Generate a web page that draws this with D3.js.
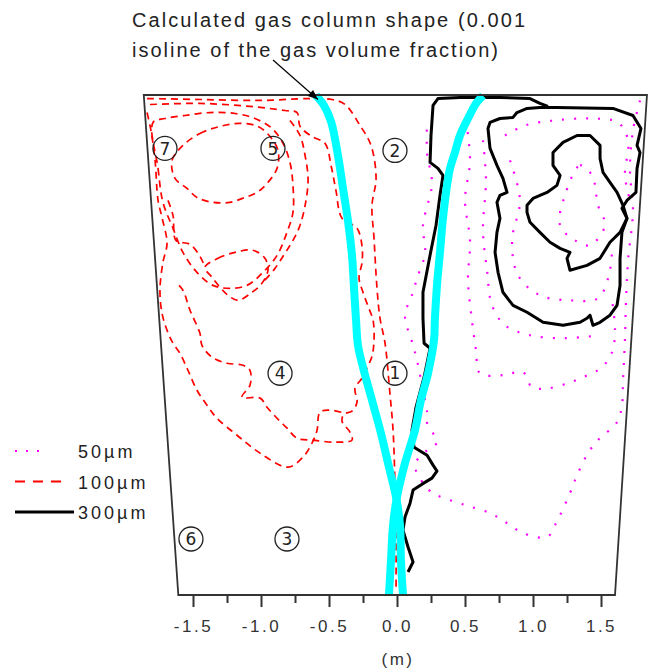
<!DOCTYPE html>
<html>
<head>
<meta charset="utf-8">
<script src="https://cdn.jsdelivr.net/npm/d3@7"></script>
<style>
  html, body { margin: 0; padding: 0; background: #ffffff; }
  text { font-family: "Liberation Sans", Arial, sans-serif; }
</style>
</head>
<body>
<svg id="chart" width="649" height="672"></svg>
<script>
// ---- Data (metres; x = radial position, y = height above the bottom) ----
const tickValues = [-1.5, -1.0, -0.5, 0.0, 0.5, 1.0, 1.5];
const minorTicks = [-1.25, -0.75, -0.25, 0.25, 0.75, 1.25];
const axisLabel = "(m)";
const titleLines = ["Calculated gas column shape (0.001", "isoline of the gas volume fraction)"];
const legendLabels = ["50\u00b5m", "100\u00b5m", "300\u00b5m"];

// vessel cross-section (bottom-left, top-left, top-right, bottom-right)
const vessel = [[-1.608, 0], [-1.862, 3.68], [1.838, 3.68], [1.603, 0]];

// 0.001 gas volume fraction isoline (two branches of the plume)
const gasLeft = [[-0.596,3.676],[-0.537,3.603],[-0.485,3.485],[-0.434,3.235],[-0.397,2.993],[-0.360,2.750],
  [-0.331,2.5],[-0.316,2.257],[-0.301,2.022],[-0.287,1.838],[-0.25,1.676],[-0.184,1.434],[-0.118,1.191],
  [-0.059,0.941],[-0.007,0.721],[0.022,0.515],[0.029,0.257],[0.044,0]];
const gasRight = [[0.632,3.676],[0.581,3.618],[0.522,3.507],[0.463,3.382],[0.426,3.257],[0.390,3.140],
  [0.368,3.015],[0.338,2.772],[0.316,2.522],[0.294,2.279],[0.279,2.037],[0.272,1.875],[0.228,1.632],
  [0.176,1.434],[0.132,1.213],[0.059,0.971],[0,0.721],[-0.029,0.515],[-0.044,0.257],[-0.059,0]];

// 100 µm particle trajectories (open lines)
const red100Lines = [
  [[-1.838,3.654],[-1.449,3.647],[-1.007,3.640],[-0.640,3.654],[-0.478,3.647],[-0.382,3.610],[-0.272,3.456],
   [-0.191,3.309],[-0.154,3.066],[-0.184,2.868],[-0.169,2.625],[-0.147,2.257],[-0.125,2.037],[-0.088,1.853],
   [-0.051,1.471],[-0.029,1.213],[-0.015,0.824],[-0.007,0.404],[-0.007,0.037]],
  [[-1.816,3.610],[-1.449,3.618],[-1.081,3.596],[-0.824,3.566],[-0.735,3.551],[-0.713,3.449],[-0.625,3.375],
   [-0.529,3.324],[-0.485,3.162],[-0.449,2.978],[-0.404,2.772],[-0.294,2.699],[-0.257,2.566],[-0.257,2.449],
   [-0.279,2.331],[-0.25,2.228],[-0.213,2.125],[-0.176,2.022],[-0.169,1.875],[-0.184,1.757],[-0.221,1.669],
   [-0.257,1.596],[-0.309,1.522],[-0.294,1.419],[-0.331,1.353],[-0.390,1.331],[-0.404,1.279],[-0.346,1.199],
   [-0.331,1.140],[-0.456,1.125],[-0.618,1.140],[-0.735,1.154],[-0.809,1.228],[-0.882,1.301],[-0.956,1.382],
   [-1.007,1.449],[-1.140,1.456],[-1.081,1.544],[-1.081,1.654],[-1.132,1.691],[-1.25,1.706],[-1.360,1.75],
   [-1.434,1.838],[-1.449,1.926],[-1.522,2.096],[-1.574,2.243],[-1.618,2.294]],
  [[-1.838,3.551],[-1.809,3.419],[-1.779,3.199],[-1.757,2.904],[-1.728,2.779],[-1.691,2.588],[-1.721,2.449],
   [-1.743,2.243],[-1.728,2.074],[-1.691,1.949],[-1.647,1.853],[-1.596,1.779],[-1.537,1.654],[-1.471,1.507],
   [-1.397,1.397],[-1.324,1.301],[-1.176,1.176],[-1.007,1.044],[-0.801,0.941],[-0.691,1.015],[-0.625,1.118],
   [-0.588,1.213],[-0.566,1.346],[-0.493,1.360],[-0.382,1.338]],
  [[-1.684,2.904],[-1.647,2.794],[-1.625,2.610],[-1.522,2.581],[-1.449,2.493],[-1.412,2.412]],
  [[-0.787,3.493],[-0.713,3.382],[-0.676,3.235],[-0.654,3.066],[-0.669,2.904],[-0.713,2.721],[-0.765,2.610],
   [-0.824,2.515],[-0.897,2.404],[-0.993,2.294]]
];
// 100 µm closed recirculation loops
const red100Loops = [
  [[-1.794,3.478],[-1.757,3.140],[-1.721,2.890],[-1.647,2.699],[-1.574,2.522],[-1.471,2.375],[-1.353,2.279],
   [-1.228,2.257],[-1.103,2.279],[-0.985,2.375],[-0.882,2.5],[-0.809,2.669],[-0.765,2.816],[-0.765,3.015],
   [-0.787,3.184],[-0.838,3.324],[-0.919,3.434],[-1.044,3.507],[-1.191,3.544],[-1.375,3.551],[-1.559,3.529],
   [-1.706,3.507]],
  [[-1.574,3.309],[-1.449,3.397],[-1.301,3.449],[-1.154,3.471],[-1.022,3.449],[-0.934,3.375],[-0.875,3.272],
   [-0.882,3.140],[-0.956,3.029],[-1.029,2.963],[-1.118,2.926],[-1.228,2.890],[-1.353,2.890],[-1.471,2.926],
   [-1.544,2.993],[-1.632,3.066],[-1.654,3.199]],
  [[-1.412,2.412],[-1.316,2.478],[-1.191,2.522],[-1.059,2.537],[-0.971,2.478],[-0.949,2.390],[-0.993,2.294],
   [-1.066,2.228],[-1.169,2.169],[-1.243,2.206],[-1.301,2.265],[-1.360,2.338]]
];

// 300 µm particle trajectories
const black300Lines = [
  [[1.110,3.596],[1.051,3.618],[0.978,3.654],[0.757,3.662],[0.463,3.662],[0.301,3.654],[0.265,3.603],
   [0.25,3.382],[0.243,3.184],[0.301,3.140],[0.338,3.088],[0.316,2.941],[0.287,2.721],[0.243,2.5],
   [0.191,2.228],[0.191,2.037],[0.199,1.853],[0.243,1.816],[0.199,1.603],[0.140,1.382],[0.110,1.213],
   [0.125,1.088],[0.221,1.029],[0.265,0.956],[0.294,0.912],[0.257,0.860],[0.184,0.816],[0.118,0.772],
   [0.096,0.676],[0.059,0.574],[0.044,0.478],[0.081,0.353],[0.118,0.243],[0.081,0.169]]
];
const black300Loops = [
  [[0.684,3.478],[0.757,3.507],[0.853,3.515],[0.882,3.551],[0.956,3.581],[1.051,3.588],[1.176,3.588],
   [1.588,3.581],[1.735,3.529],[1.794,3.434],[1.765,3.309],[1.787,3.257],[1.765,3.140],[1.757,2.963],
   [1.691,2.904],[1.654,2.846],[1.691,2.772],[1.654,2.669],[1.640,2.478],[1.640,2.279],[1.618,2.132],
   [1.566,2.059],[1.493,2.007],[1.441,1.985],[1.419,2.059],[1.397,2.037],[1.346,2.007],[1.221,1.985],
   [1.074,2.007],[0.956,2.081],[0.853,2.132],[0.779,2.228],[0.743,2.375],[0.721,2.522],[0.735,2.669],
   [0.757,2.772],[0.735,2.890],[0.757,2.941],[0.809,2.963],[0.779,3.066],[0.735,3.162],[0.684,3.287],
   [0.669,3.434]],
  [[0.956,2.868],[1.0,2.919],[1.103,2.963],[1.176,3.015],[1.199,3.088],[1.147,3.162],[1.147,3.257],
   [1.221,3.331],[1.324,3.382],[1.419,3.382],[1.493,3.309],[1.493,3.213],[1.515,3.110],[1.566,3.037],
   [1.618,2.963],[1.662,2.868],[1.691,2.772],[1.640,2.669],[1.566,2.596],[1.493,2.478],[1.397,2.426],
   [1.272,2.390],[1.25,2.478],[1.272,2.522],[1.199,2.551],[1.125,2.596],[1.051,2.669],[0.978,2.743],
   [0.956,2.816]]
];

// 50 µm particle trajectories
const magenta50Lines = [
  [[1.787,3.640],[1.735,3.419],[1.713,3.125],[1.735,2.831],[1.699,2.463],[1.684,2.169],[1.676,1.875],
   [1.662,1.581],[1.654,1.397],[1.618,1.272],[1.478,1.140],[1.404,1.044],[1.324,0.882],[1.272,0.75],
   [1.162,0.515],[1.103,0.426],[0.926,0.456],[0.809,0.529],[0.684,0.603],[0.5,0.662],[0.294,0.735],
   [0.228,0.779],[0.132,0.956],[0.221,1.066],[0.294,1.125],[0.221,1.265],[0.221,1.346],[0.191,1.507],
   [0.147,1.728],[0.118,1.838],[0.059,2.059],[0.110,2.206],[0.147,2.331],[0.206,2.515],[0.191,2.721],
   [0.257,3.029],[0.221,3.25],[0.221,3.493]],
  [[0.507,3.493],[0.537,3.199],[0.5,2.904],[0.537,2.610],[0.522,2.316],[0.551,2.022],[0.581,1.801],
   [0.610,1.632],[0.779,1.618],[0.926,1.640],[0.993,1.529],[1.110,1.522],[1.257,1.559],[1.368,1.603],
   [1.507,1.676],[1.581,1.787],[1.603,1.949],[1.581,2.169]],
  [[0.794,3.382],[0.941,3.456],[1.162,3.493],[1.419,3.507],[1.625,3.478],[1.699,3.346],[1.676,3.088],
   [1.713,2.904]],
  [[0.831,3.199],[0.904,2.904],[0.846,2.610],[0.890,2.353],[1.051,2.206],[1.272,2.169],[1.478,2.184],
   [1.566,2.390],[1.581,2.574]],
  [[0.632,3.346],[0.654,3.051],[0.632,2.684],[0.662,2.390],[0.699,2.132],[0.794,1.985],[0.978,1.912],
   [1.235,1.890],[1.493,1.912]]
];
const magenta50Loops = [
  [[1.235,2.941],[1.346,3.162],[1.434,3.088],[1.478,2.868],[1.529,2.721],[1.419,2.574],[1.309,2.610],
   [1.199,2.721]]
];

// numbered measuring points
const probes = [
  { n: "1", x: -0.015, y: 1.632 },
  { n: "2", x: -0.015, y: 3.272 },
  { n: "3", x: -0.809, y: 0.412 },
  { n: "4", x: -0.860, y: 1.632 },
  { n: "5", x: -0.912, y: 3.287 },
  { n: "6", x: -1.515, y: 0.412 },
  { n: "7", x: -1.706, y: 3.287 }
];

// ---- Scales ----
const svg = d3.select("#chart");
const x = d3.scaleLinear().domain([-1.5, 1.5]).range([193, 601]);
const y = d3.scaleLinear().domain([0, 3.68]).range([595, 95]);

const lineOpen = d3.line().x(d => x(d[0])).y(d => y(d[1])).curve(d3.curveCatmullRom.alpha(0.5));
const lineClosed = d3.line().x(d => x(d[0])).y(d => y(d[1])).curve(d3.curveCatmullRomClosed.alpha(0.5));
const lineJag = d3.line().x(d => x(d[0])).y(d => y(d[1])).curve(d3.curveLinear);
const lineJagClosed = d3.line().x(d => x(d[0])).y(d => y(d[1])).curve(d3.curveLinearClosed);

const RED = "#ff0000", MAGENTA = "#ff00ff", CYAN = "#00ffff", INK = "#1a1a1a";

// ---- 100 µm (red dashed) ----
const gRed = svg.append("g").attr("fill", "none").attr("stroke", RED)
  .attr("stroke-width", 1.7).attr("stroke-dasharray", "7,5");
gRed.selectAll("path.l").data(red100Lines).join("path").attr("class", "l").attr("d", lineOpen);
gRed.selectAll("path.c").data(red100Loops).join("path").attr("class", "c").attr("d", lineClosed);

// ---- 50 µm (magenta dotted) ----
const gMag = svg.append("g").attr("fill", "none").attr("stroke", MAGENTA)
  .attr("stroke-width", 2.2).attr("stroke-dasharray", "2,10");
gMag.selectAll("path.l").data(magenta50Lines).join("path").attr("class", "l").attr("d", lineOpen);
gMag.selectAll("path.c").data(magenta50Loops).join("path").attr("class", "c").attr("d", lineClosed);

// ---- 300 µm (black solid) ----
const gBlk = svg.append("g").attr("fill", "none").attr("stroke", "#000")
  .attr("stroke-width", 3).attr("stroke-linejoin", "round");
gBlk.selectAll("path.l").data(black300Lines).join("path").attr("class", "l").attr("d", lineJag);
gBlk.selectAll("path.c").data(black300Loops).join("path").attr("class", "c").attr("d", lineJagClosed);

// ---- gas column isoline ----
svg.append("g").attr("fill", "none").attr("stroke", CYAN).attr("stroke-width", 8)
  .selectAll("path").data([gasLeft, gasRight]).join("path").attr("d", lineOpen);

// ---- vessel outline ----
svg.append("path").datum(vessel)
  .attr("d", lineJagClosed)
  .attr("fill", "none").attr("stroke", "#333").attr("stroke-width", 1.8);

// ---- axis ----
const axisG = svg.append("g").attr("transform", `translate(0,${y(0)})`);
axisG.call(d3.axisBottom(x).tickValues(tickValues).tickSize(12).tickPadding(13)
  .tickFormat(d => d.toFixed(1)));
const minorG = svg.append("g").attr("transform", `translate(0,${y(0)})`);
minorG.call(d3.axisBottom(x).tickValues(minorTicks).tickSize(8).tickFormat(""));
[axisG, minorG].forEach(g => {
  g.select(".domain").remove();
  g.selectAll(".tick line").attr("stroke", "#333").attr("stroke-width", 2);
});
axisG.selectAll(".tick text")
  .attr("fill", "#333").attr("font-size", 17).attr("letter-spacing", "2.5px")
  .attr("font-family", "'Liberation Sans', Arial, sans-serif");
svg.append("text").attr("x", 398).attr("y", 665).attr("text-anchor", "middle")
  .attr("font-size", 17).attr("letter-spacing", "2.5px").attr("fill", "#333").text(axisLabel);

// ---- probe markers ----
const pg = svg.append("g").selectAll("g").data(probes).join("g")
  .attr("transform", d => `translate(${x(d.x)},${y(d.y)})`);
pg.append("circle").attr("r", 12).attr("fill", "none").attr("stroke", "#222").attr("stroke-width", 1.3);
pg.append("text").attr("text-anchor", "middle").attr("dy", "0.36em")
  .attr("font-size", 17).attr("fill", "#222")
  .style("font-family", "'DejaVu Sans', sans-serif").text(d => d.n);

// ---- annotation ----
svg.append("defs").append("marker").attr("id", "arrowHead")
  .attr("viewBox", "0 0 10 8").attr("refX", 10).attr("refY", 4)
  .attr("markerWidth", 11).attr("markerHeight", 8).attr("markerUnits", "userSpaceOnUse")
  .attr("orient", "auto")
  .append("path").attr("d", "M0,0 L10,4 L0,8 Z").attr("fill", "#000");

svg.append("line")
  .attr("x1", 273).attr("y1", 60)
  .attr("x2", x(gasLeft[0][0]) + 2).attr("y2", y(gasLeft[0][1]) + 4)
  .attr("stroke", "#000").attr("stroke-width", 1.2).attr("marker-end", "url(#arrowHead)");

svg.selectAll("text.title").data(titleLines).join("text").attr("class", "title")
  .attr("x", 132).attr("y", (d, i) => 27 + i * 29.5)
  .attr("font-size", 20).attr("fill", "#222")
  .attr("textLength", (d, i) => i === 0 ? 393 : 366).attr("lengthAdjust", "spacing")
  .text(d => d);

// ---- legend ----
const legendRows = [
  { label: legendLabels[0], stroke: MAGENTA, dash: "2,9", width: 2.2, x2: 45 },
  { label: legendLabels[1], stroke: RED, dash: "10,8", width: 1.8, x2: 63 },
  { label: legendLabels[2], stroke: "#000", dash: null, width: 3, x2: 74 }
];
const lg = svg.append("g").selectAll("g").data(legendRows).join("g")
  .attr("transform", (d, i) => `translate(0,${451 + i * 30.5})`);
lg.append("line").attr("x1", 15).attr("x2", d => d.x2).attr("y1", 0).attr("y2", 0)
  .attr("stroke", d => d.stroke).attr("stroke-width", d => d.width)
  .attr("stroke-dasharray", d => d.dash);
lg.append("text").attr("x", 78).attr("y", 7).attr("font-size", 18)
  .attr("letter-spacing", "3px").attr("fill", "#222").text(d => d.label);
</script>
</body>
</html>
